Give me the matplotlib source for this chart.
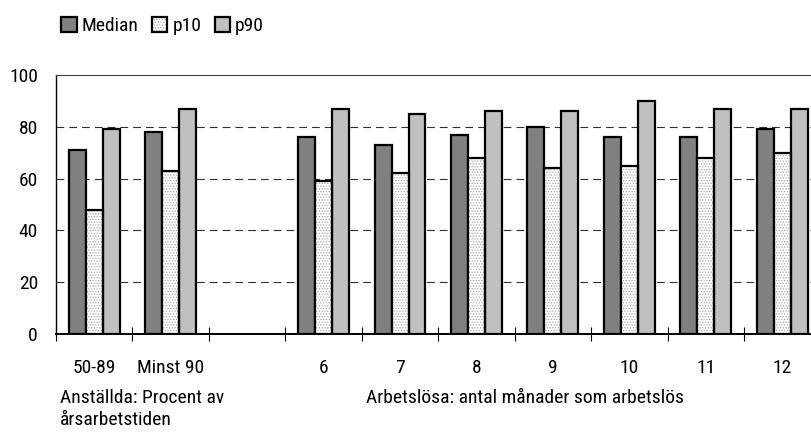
import matplotlib.pyplot as plt
import numpy as np
from matplotlib.patches import Patch
from matplotlib.legend_handler import HandlerTuple

plt.rcParams['font.family'] = ['Roboto Condensed', 'DejaVu Sans']
plt.rcParams['hatch.linewidth'] = 0.6

# data
categories = ['50-89', 'Minst 90', '', '6', '7', '8', '9', '10', '11', '12']
median = [71, 78, np.nan, 76, 73, 77, 80, 76, 76, 79]
p10 = [48, 63, np.nan, 59, 62, 68, 64, 65, 68, 70]
p90 = [79, 87, np.nan, 87, 85, 86, 86, 90, 87, 87]
group_left = 'Anställda: Procent av\nårsarbetstiden'
group_right = 'Arbetslösa: antal månader som arbetslös'

x = np.arange(len(categories))
w = 0.222
edge_lw = 1.6
fs = 14

fig = plt.figure(figsize=(8.11, 4.40), dpi=100)
ax = fig.add_axes([56 / 811, 106 / 440, 764.5 / 811, 259 / 440])

ax.bar(x - w, median, w, color='#808080', edgecolor='black', linewidth=edge_lw, zorder=3)
# dotted fill for p10, outline drawn on top
ax.bar(x, p10, w, color='white', edgecolor='#a8a8a8', hatch='......', linewidth=0, zorder=3)
ax.bar(x, p10, w, fill=False, edgecolor='black', linewidth=edge_lw, zorder=4)
ax.bar(x + w, p90, w, color='#c0c0c0', edgecolor='black', linewidth=edge_lw, zorder=3)

ax.set_xlim(-0.5, len(categories) - 0.5)
ax.set_ylim(0, 100)
ax.set_yticks([0, 20, 40, 60, 80, 100])
ax.tick_params(axis='y', length=0, pad=13, labelsize=fs)

# boundary ticks (major) and centred labels (minor)
ax.set_xticks(np.arange(len(categories) + 1) - 0.5)
ax.set_xticklabels([])
ax.tick_params(axis='x', which='major', direction='inout', length=10, width=0.8)
ax.set_xticks(x, minor=True)
ax.set_xticklabels(categories, minor=True)
ax.tick_params(axis='x', which='minor', length=0, pad=18, labelsize=fs)

for yv in [20, 40, 60, 80]:
    ax.axhline(yv, color='#303030', linewidth=0.8, dashes=(7, 4.5), zorder=1)

ax.spines['right'].set_visible(False)
ax.spines['top'].set_color('#404040')
ax.spines['left'].set_linewidth(1.0)
ax.spines['bottom'].set_linewidth(1.4)

# legend
h_med = Patch(facecolor='#808080', edgecolor='black', linewidth=edge_lw)
h_p10 = (Patch(facecolor='white', edgecolor='#a8a8a8', hatch='......', linewidth=0),
         Patch(fill=False, edgecolor='black', linewidth=edge_lw))
h_p90 = Patch(facecolor='#c0c0c0', edgecolor='black', linewidth=edge_lw)
fig.legend([h_med, h_p10, h_p90], ['Median', 'p10', 'p90'],
           handler_map={tuple: HandlerTuple(ndivide=1, pad=0)},
           loc='center left', bbox_to_anchor=(61 / 811, 1 - 26 / 440), ncol=3,
           frameon=False, fontsize=fs, handlelength=0.8, handleheight=0.8,
           handletextpad=0.25, columnspacing=0.7, borderpad=0, borderaxespad=0)

fig.text(60 / 811, 1 - 389 / 440, group_left, fontsize=fs, va='top', ha='left', linespacing=1.3)
fig.text(366 / 811, 1 - 389 / 440, group_right, fontsize=fs, va='top', ha='left')

plt.savefig('out.png', dpi=100)
